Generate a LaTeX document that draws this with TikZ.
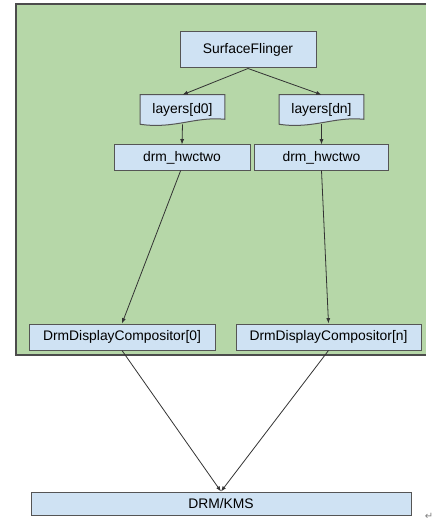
\documentclass[tikz,border=0pt]{standalone}
\usepackage{fontspec}
\setmainfont{Liberation Sans}
\newfontfamily\symfont{DejaVu Sans}
\usepackage{tikz}
\usetikzlibrary{arrows.meta,backgrounds}
\definecolor{panelgreen}{HTML}{B6D7A8}
\definecolor{boxblue}{HTML}{CFE2F3}
\definecolor{edgegray}{HTML}{555555}

\begin{document}
\begin{tikzpicture}[x=0.75pt,y=-0.75pt,
  box/.style={draw=edgegray,fill=boxblue,line width=0.75pt,inner sep=1pt,font=\fontsize{10.4}{12}\selectfont},
  doc/.style={inner sep=1pt,minimum width=63pt,minimum height=21.75pt,font=\fontsize{10.4}{12}\selectfont},
  docshape/.style={draw=edgegray,fill=boxblue,line width=0.75pt},
  link/.style={draw=black!80,line width=0.6pt,-{Latex[length=4pt,width=3pt]}}]
\useasboundingbox (0,0) rectangle (447,531);
% green panel
\begin{scope}[on background layer]
\fill[panelgreen] (16,4) rectangle (426,355);
\draw[gray!60!black,line width=1pt] (426,4) -- (16,4) -- (16,355) -- (426,355);
\end{scope}
\node[box,minimum width=102pt,minimum height=27pt] (sf) at (248,50) {SurfaceFlinger};
\node[doc] (ld0) at (182.5,109.5) {layers[d0]};
\node[doc] (ldn) at (321.5,109.5) {layers[dn]};
\node[box,minimum width=102pt,minimum height=18.75pt] (hwc0) at (182,157.5) {drm\_hwctwo};
\node[box,minimum width=101pt,minimum height=18.75pt] (hwcn) at (321.5,157.5) {drm\_hwctwo};
\node[box,minimum width=139.5pt,minimum height=19.5pt] (ddc0) at (122,337) {DrmDisplayCompositor[0]};
\node[box,minimum width=138.75pt,minimum height=19.5pt] (ddcn) at (328.5,337) {DrmDisplayCompositor[n]};
\node[box,minimum width=285pt,minimum height=17.25pt] (kms) at (221,503.5) {DRM/KMS};
\node[text=gray,inner sep=0pt,font=\symfont\fontsize{7.5}{8}\selectfont] (mark) at (429,516) {↵};
% wavy bottom of the layer boxes
\begin{scope}[on background layer]
\foreach \n in {ld0,ldn}
  \draw[docshape] (\n.south west) -- (\n.north west) -- (\n.north east)
    -- ([yshift=3.75pt]\n.south east) .. controls +(-30,-3) and +(34,5) .. (\n.south west) -- cycle;
\end{scope}
\draw[link] (sf.south) -- (ld0.north);
\draw[link] (sf.south) -- (ldn.north);
\draw[link] (ld0.south) -- (hwc0.north);
\draw[link] (ldn.south) -- (hwcn.north);
\draw[link] ([xshift=-1pt]hwc0.south) -- (ddc0.north);
\draw[link] (hwcn.south) -- (ddcn.north);
\draw[link] (ddc0.south) -- (kms.north);
\draw[link] (ddcn.south) -- (kms.north);
\end{tikzpicture}
\end{document}
